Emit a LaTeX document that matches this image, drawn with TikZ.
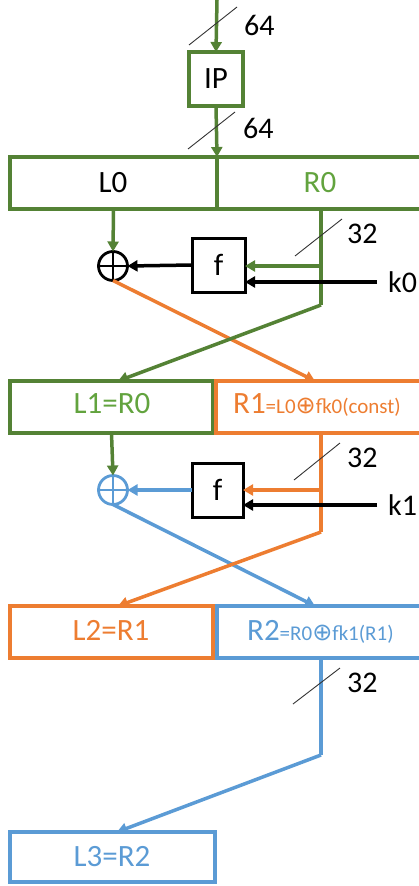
\documentclass[tikz,border=0pt]{standalone}
\usepackage{fontspec}
\setmainfont{Carlito}
\newfontfamily\symfont{DejaVu Sans}
\usetikzlibrary{arrows.meta,calc}
\definecolor{grn}{HTML}{548235}
\definecolor{grntxt}{HTML}{62A33E}
\definecolor{org}{HTML}{ED7D31}
\definecolor{blu}{HTML}{5B9BD5}
\newcommand{\oplusglyph}{{\symfont\fontsize{24}{24}\selectfont\raisebox{-0.5pt}{⊕}}}
\tikzset{
  box/.style={draw=#1, line width=3.5pt, minimum height=52pt, inner sep=0pt, outer sep=0pt},
  fblock/.style={draw=black, line width=3pt, inner sep=0pt, outer sep=0pt,
    minimum width=53pt, minimum height=54pt},
  wire/.style={line width=3.5pt, -{Triangle[length=10pt,width=11pt]}},
  bare/.style={line width=3.5pt},
  slash/.style={line width=0.9pt, draw=black!80},
  big/.style={font=\fontsize{31}{32}\selectfont, inner sep=0pt},
  lbl/.style={font=\fontsize{30}{32}\selectfont, inner sep=0pt, anchor=base west},
  xorc/.style={circle, draw=#1, line width=2.8pt, minimum size=29pt, inner sep=0pt, outer sep=0pt,
    path picture={\draw[#1, line width=2.8pt]
      (path picture bounding box.north) -- (path picture bounding box.south)
      (path picture bounding box.west) -- (path picture bounding box.east);}},
}
\begin{document}
\begin{tikzpicture}[x=1pt, y=-1pt]
\useasboundingbox (0,0) rectangle (418,886);

% ---------- initial permutation ----------
\coordinate (in0) at (217,0);
\node[box=grn, minimum width=54pt, minimum height=54pt] (ip) at (216,79) {};
\node[big, anchor=base] (iptxt) at (216,88) {IP};
\node[box=grn, minimum width=207pt] (L0) at (113.5,183) {};
\node[box=grn, minimum width=223pt] (R0) at (328.5,183) {};
\node[big, anchor=base] (L0t) at (113,192) {L0};
\node[big, anchor=base, text=grntxt] (R0t) at (320,192) {R0};

\draw[wire, grn] (in0) -- (ip.north);
\draw[wire, grn] (ip.south) -- (L0.north east);
\draw[slash] (189,45) -- (237,7);
\node[lbl] (w64a) at (244,35) {64};
\draw[slash] (188,149) -- (235,112);
\node[lbl] (w64b) at (243,138) {64};

% ---------- round 0 ----------
\node[fblock] (f0) at (218.5,265) {};
\node[big, anchor=base] (f0t) at (218.5,275) {f};
\node[xorc=black] (x0) at (113,266) {};
\coordinate (r0out) at (321,209);
\coordinate (r0tap) at (321,266);
\coordinate (r0bend) at (321,305);
\node[lbl] (k0) at (388,292) {k0};
\coordinate (k0src) at (377,282);

\node[box=grn, minimum width=203pt] (L1) at (111.5,407) {};
\node[box=org, minimum width=224pt] (R1) at (328,407) {};

\draw[wire, org] (x0.south) -- (315,381) coordinate (r1in);
\draw[wire, grn] (L0.south |- r0out) -- (x0.north);
\draw[bare, grn] (r0out) -- (r0bend);
\draw[wire, grn] (r0bend) -- (118,381) coordinate (l1in);
\draw[wire, grn] (r0tap) -- (r0tap -| f0.east);
\draw[wire, black] (k0src) -- (k0src -| f0.east);
\draw[wire, black] (f0.west) -- (x0.east);
\draw[slash] (295,256) -- (342,219);
\node[lbl] (w32a) at (347,243) {32};

\node[big, anchor=base, text=grntxt] (L1t) at (112,413) {L1=R0};
\node[big, anchor=base west, text=org] (R1t) at (233,413)
  {R1{\fontsize{21}{22}\selectfont=L0\oplusglyph fk0(const)}};

% ---------- round 1 ----------
\node[fblock, minimum width=51pt] (f1) at (217.5,490) {};
\node[big, anchor=base] (f1t) at (217.5,500) {f};
\node[xorc=blu] (x1) at (113,490) {};
\coordinate (r1out) at (321,433);
\coordinate (r1tap) at (321,490);
\coordinate (r1bend) at (321,532);
\node[lbl] (k1) at (388,515) {k1};
\coordinate (k1src) at (377,505);

\node[box=org, minimum width=203pt] (L2) at (111.5,632) {};
\node[box=blu, minimum width=223pt] (R2) at (328.5,632) {};

\draw[wire, blu] (x1.south) -- (315,606) coordinate (r2in);
\draw[wire, grn] (L1.south |- r1out) -- (x1.north);
\draw[bare, org] (r1out) -- (r1bend);
\draw[wire, org] (r1bend) -- (118,606) coordinate (l2in);
\draw[wire, org] (r1tap) -- (r1tap -| f1.east);
\draw[wire, black] (k1src) -- (k1src -| f1.east);
\draw[wire, blu] (f1.west) -- (x1.east);
\draw[slash] (294,480) -- (340,443);
\node[lbl] (w32b) at (347,467) {32};

\node[big, anchor=base, text=org] (L2t) at (111,640) {L2=R1};
\node[big, anchor=base west, text=blu] (R2t) at (247,640)
  {R2{\fontsize{21}{22}\selectfont=R0\oplusglyph fk1(R1)}};

% ---------- output ----------
\node[box=blu, minimum width=205pt, minimum height=50pt] (L3) at (112.5,857) {};
\node[big, anchor=base, text=blu] (L3t) at (112,866) {L3=R2};
\coordinate (r2out) at (321,658);
\coordinate (r2bend) at (321,755);
\draw[bare, blu] (r2out) -- (r2bend);
\draw[wire, blu] (r2bend) -- (117,832) coordinate (l3in);
\draw[slash] (293,704) -- (340,668);
\node[lbl] (w32c) at (347,692) {32};
\end{tikzpicture}
\end{document}
